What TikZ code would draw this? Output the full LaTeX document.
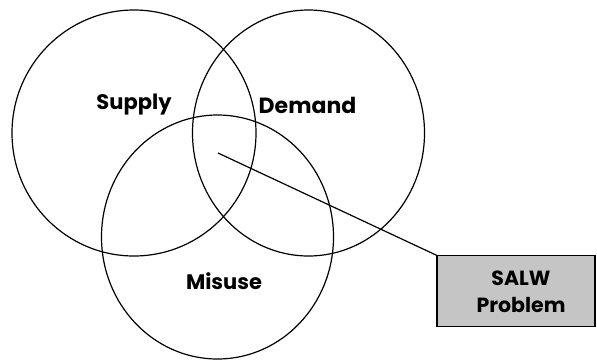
\documentclass[tikz,border=0pt]{standalone}
\usepackage{fontspec}
\setmainfont{Poppins}
\usetikzlibrary{shapes.geometric}
\definecolor{boxgray}{RGB}{197,197,197}
\begin{document}
\begin{tikzpicture}[x=1pt,y=-1pt,
  ring/.style={draw=black, line width=1.2pt, ellipse, inner sep=0pt, outer sep=0pt},
  lbl/.style={font=\fontsize{21}{24}\selectfont\bfseries, inner sep=0pt},
  salwbox/.style={draw=black, fill=boxgray, line width=1.4pt, inner sep=0pt, outer sep=0pt, minimum width=158pt, minimum height=71pt},
  link/.style={draw=black, line width=1.2pt}]
\useasboundingbox (0,0) rectangle (597,360);
\node[ring, minimum width=244pt, minimum height=246pt] (supply) at (134,133) {};
\node[ring, minimum width=232pt, minimum height=246pt] (demand) at (308.5,133) {};
\node[ring, minimum width=232pt, minimum height=244pt] (misuse) at (217.5,237) {};
\node[salwbox] (box) at (516,291) {};
\node[lbl] (tsupply) at (134,105) {Supply};
\node[lbl, font=\fontsize{22}{24}\selectfont\bfseries] (tdemand) at (307.5,105) {Demand};
\node[lbl] (tmisuse) at (224,281) {Misuse};
\node[lbl, align=center, font=\fontsize{20.5}{26.7}\selectfont\bfseries] (tsalw) at (521,292) {SALW\\Problem};
\coordinate (hub) at (218,153);
\draw[link] (hub) -- (box.north west);
\end{tikzpicture}
\end{document}
